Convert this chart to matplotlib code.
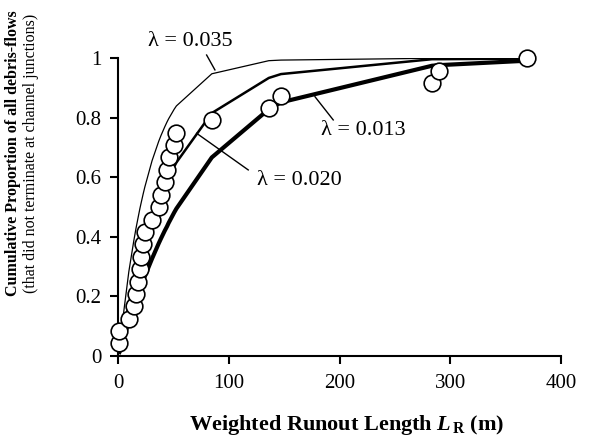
import matplotlib
matplotlib.use("Agg")
import matplotlib.pyplot as plt

plt.rcParams['font.family'] = ['Liberation Serif', 'DejaVu Serif']
plt.rcParams['mathtext.fontset'] = 'custom'
plt.rcParams['mathtext.rm'] = 'Liberation Serif'
plt.rcParams['mathtext.it'] = 'Liberation Serif:italic:bold'
plt.rcParams['mathtext.bf'] = 'Liberation Serif:bold'

# observed runout lengths (m) and cumulative proportion
runout = [1, 1, 9.5, 14, 16, 18, 19.5, 20.5, 22.5, 24, 30.5, 36.5,
          38.5, 42, 44, 45.5, 50.5, 52.5, 84.5, 136, 147, 283.5, 290, 369.5]
cum_prop = [0.042, 0.083, 0.125, 0.167, 0.208, 0.25, 0.292, 0.333,
            0.375, 0.417, 0.458, 0.5, 0.542, 0.583, 0.625, 0.667,
            0.708, 0.75, 0.792, 0.833, 0.875, 0.917, 0.958, 1.0]

# model curves read at the same runout lengths
lam_035 = [0.034, 0.034, 0.283, 0.387, 0.429, 0.467, 0.495, 0.512, 0.545,
           0.568, 0.656, 0.721, 0.74, 0.77, 0.786, 0.797, 0.829, 0.84,
           0.948, 0.992, 0.994, 1.0, 1.0, 1.0]
lam_020 = [0.02, 0.02, 0.173, 0.244, 0.274, 0.302, 0.323, 0.336, 0.362,
           0.381, 0.457, 0.518, 0.537, 0.568, 0.585, 0.597, 0.636, 0.65,
           0.816, 0.934, 0.947, 0.997, 0.997, 0.999]
lam_013 = [0.013, 0.013, 0.116, 0.166, 0.188, 0.209, 0.224, 0.234, 0.254,
           0.268, 0.327, 0.378, 0.394, 0.421, 0.435, 0.447, 0.482, 0.495,
           0.667, 0.829, 0.852, 0.975, 0.977, 0.992]

fig = plt.figure(figsize=(5.93, 4.40), dpi=100)
ax = fig.add_axes([0.1995, 0.191, 0.7465, 0.6765])

ax.plot(runout, lam_035, color='black', lw=0.9, zorder=2)
ax.plot(runout, lam_020, color='black', lw=1.8, zorder=2)
ax.plot(runout, lam_013, color='black', lw=3.0, zorder=2)
ax.plot(runout, cum_prop, 'o', ms=12, mfc='white', mec='black', mew=1.2,
        zorder=3, clip_on=False)

# curve labels with leader lines
ax.text(64.8, 1.056, 'λ = 0.035', fontsize=16, ha='center', va='center')
ax.plot([79.8, 87.3], [1.011, 0.961], color='black', lw=1, clip_on=False)
ax.text(221.3, 0.759, 'λ = 0.013', fontsize=16, ha='center', va='center')
ax.plot([194.2, 177.7], [0.793, 0.871], color='black', lw=1)
ax.text(163.3, 0.591, 'λ = 0.020', fontsize=16, ha='center', va='center')
ax.plot([117.4, 70.8], [0.625, 0.748], color='black', lw=1)

ax.set_xlim(0, 400)
ax.set_ylim(0, 1)
ax.set_xticks([0, 100, 200, 300, 400])
ax.set_yticks([0, 0.2, 0.4, 0.6, 0.8, 1])
ax.set_yticklabels(['0', '0.2', '0.4', '0.6', '0.8', '1'])
ax.tick_params(direction='out', length=6, width=1.5, labelsize=15)
ax.tick_params(axis='x', pad=7)
ax.tick_params(axis='y', pad=6)
for s in ['top', 'right']:
    ax.spines[s].set_visible(False)
for s in ['left', 'bottom']:
    ax.spines[s].set_linewidth(1.5)

fig.text(0.585, 0.034, r'Weighted Runout Length $\mathit{L}_{\,\mathbf{R}}$ (m)',
         fontsize=16, fontweight='bold', ha='center', va='center')
fig.text(0.022, 0.652, 'Cumulative Proportion of all debris-flows',
         fontsize=11.5, fontweight='bold', rotation=90, ha='center', va='center')
fig.text(0.052, 0.652, '(that did not terminate at channel junctions)',
         fontsize=11.5, rotation=90, ha='center', va='center')

fig.savefig('out.png', dpi=100)
